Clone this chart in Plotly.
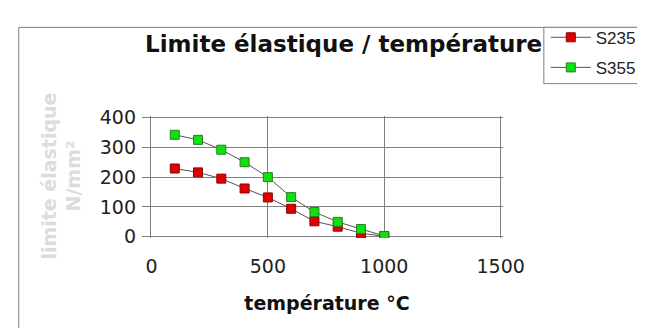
import plotly.graph_objects as go

temperature = [100, 200, 300, 400, 500, 600, 700, 800, 900, 1000]
s235 = [229, 216, 195, 162, 132, 94, 52, 34, 12, 2]
s355 = [342, 325, 292, 250, 200, 133, 83, 50, 26, 3]
x_ticks = [0, 500, 1000, 1500]
y_ticks = [0, 100, 200, 300, 400]

W, H = 645, 328
L, R, T, B = 143, 505, 102, 230

def px_x(p):
    return (p - L) / (R - L)

def px_y(p):
    return (B - p) / (B - T)

fig = go.Figure()
fig.add_trace(go.Scatter(
    x=temperature, y=s235, name="S235", mode="lines+markers",
    line=dict(color="#555555", width=1),
    marker=dict(symbol="square", size=9, color="#e00000", line=dict(color="#900000", width=1)),
    legendgroup="a"))
fig.add_trace(go.Scatter(
    x=temperature, y=s355, name="S355", mode="lines+markers",
    line=dict(color="#555555", width=1),
    marker=dict(symbol="square", size=9, color="#10e010", line=dict(color="#208020", width=1)),
    legendgroup="b"))

fig.update_layout(
    width=W, height=H,
    margin=dict(l=L, r=W - R, t=T, b=H - B, pad=0),
    paper_bgcolor="white", plot_bgcolor="white",
    title=dict(text="Limite élastique / température", xref="container", x=137 / W, xanchor="left",
               yref="container", y=1 - 36 / H, yanchor="middle",
               font=dict(family="DejaVu Sans", size=23, weight="bold", color="#111111")),
    xaxis=dict(range=[-2, 1510], tickvals=x_ticks, ticks="", showgrid=True,
               gridcolor="#808080", gridwidth=1.4, zeroline=False, showline=False,
               ticklabelstandoff=15,
               tickfont=dict(family="DejaVu Sans", size=19, color="#222222"),
               title=dict(text="température °C", standoff=20,
                          font=dict(family="DejaVu Sans", size=19, weight="bold", color="#111111"))),
    yaxis=dict(range=[-4, 405], tickvals=y_ticks, ticks="outside", ticklen=8, tickcolor="#808080",
               showgrid=True, gridcolor="#808080", gridwidth=1.4, zeroline=False,
               showline=True, linecolor="#808080", linewidth=1.4, ticklabelstandoff=2,
               tickfont=dict(family="DejaVu Sans", size=19, color="#222222")),
    showlegend=True,
    legend=dict(x=px_x(549), y=px_y(1), xanchor="left", yanchor="top",
                bgcolor="rgba(0,0,0,0)", borderwidth=0,
                traceorder="grouped", tracegroupgap=5, itemwidth=40,
                font=dict(family="Liberation Sans", size=17, color="#222222")),
    annotations=[dict(text="limite élastique<br>N/mm²", xref="paper", yref="paper",
                      x=px_x(50), y=px_y(165), xanchor="center", yanchor="middle",
                      textangle=-90, showarrow=False,
                      font=dict(family="DejaVu Sans", size=19, weight="bold", color="#dcdcdc"))],
    shapes=[dict(type="rect", xref="paper", yref="paper", x0=px_x(7), x1=px_x(700),
                 y0=px_y(400), y1=px_y(9), line=dict(color="#808080", width=1),
                 fillcolor="rgba(0,0,0,0)", layer="below"),
            dict(type="rect", xref="paper", yref="paper", x0=px_x(547), x1=px_x(700),
                 y0=px_y(68), y1=px_y(9), line=dict(color="#808080", width=1),
                 fillcolor="white", layer="below")],
)

fig.write_html("out.html")
